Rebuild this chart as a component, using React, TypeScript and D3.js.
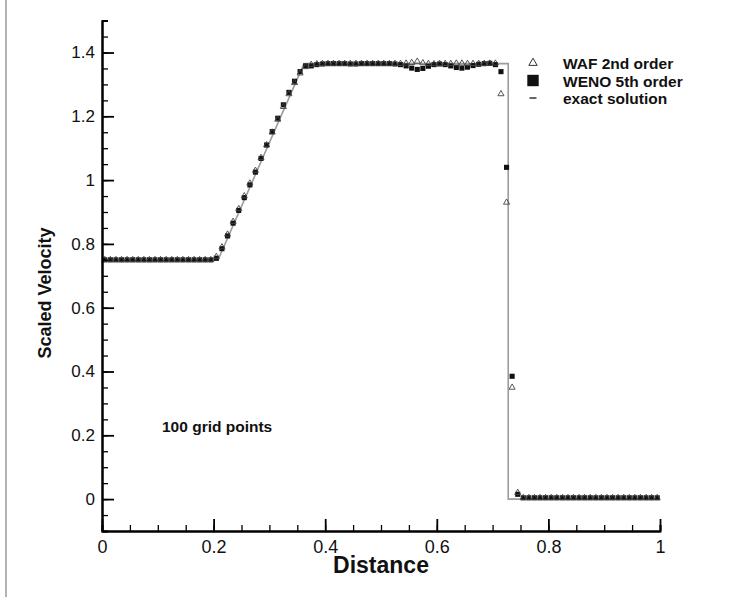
import { useEffect, useRef } from 'react';
import * as d3 from 'd3';

// cell centres of the 100-point grid
const gridX = [
  0.005, 0.015, 0.025, 0.035, 0.045, 0.055, 0.065, 0.075, 0.085, 0.095,
  0.105, 0.115, 0.125, 0.135, 0.145, 0.155, 0.165, 0.175, 0.185, 0.195,
  0.205, 0.215, 0.225, 0.235, 0.245, 0.255, 0.265, 0.275, 0.285, 0.295,
  0.305, 0.315, 0.325, 0.335, 0.345, 0.355, 0.365, 0.375, 0.385, 0.395,
  0.405, 0.415, 0.425, 0.435, 0.445, 0.455, 0.465, 0.475, 0.485, 0.495,
  0.505, 0.515, 0.525, 0.535, 0.545, 0.555, 0.565, 0.575, 0.585, 0.595,
  0.605, 0.615, 0.625, 0.635, 0.645, 0.655, 0.665, 0.675, 0.685, 0.695,
  0.705, 0.715, 0.725, 0.735, 0.745, 0.755, 0.765, 0.775, 0.785, 0.795,
  0.805, 0.815, 0.825, 0.835, 0.845, 0.855, 0.865, 0.875, 0.885, 0.895,
  0.905, 0.915, 0.925, 0.935, 0.945, 0.955, 0.965, 0.975, 0.985, 0.995,
];

const wafValues = [
  0.75, 0.75, 0.75, 0.75, 0.75, 0.75, 0.75, 0.75, 0.75, 0.75,
  0.75, 0.75, 0.75, 0.75, 0.75, 0.75, 0.75, 0.75, 0.75, 0.75,
  0.76, 0.79, 0.83, 0.87, 0.91, 0.95, 0.99, 1.03, 1.07, 1.11,
  1.15, 1.19, 1.23, 1.27, 1.305, 1.335, 1.355, 1.362, 1.364, 1.365,
  1.365, 1.365, 1.365, 1.365, 1.365, 1.365, 1.365, 1.365, 1.365, 1.365,
  1.365, 1.365, 1.365, 1.365, 1.366, 1.368, 1.372, 1.367, 1.365, 1.364,
  1.365, 1.365, 1.365, 1.366, 1.366, 1.365, 1.365, 1.365, 1.365, 1.366,
  1.366, 1.27, 0.93, 0.35, 0.02, 0.004, 0.004, 0.004, 0.004, 0.004,
  0.004, 0.004, 0.004, 0.004, 0.004, 0.004, 0.004, 0.004, 0.004, 0.004,
  0.004, 0.004, 0.004, 0.004, 0.004, 0.004, 0.004, 0.004, 0.004, 0.004,
];

const wenoValues = [
  0.75, 0.75, 0.75, 0.75, 0.75, 0.75, 0.75, 0.75, 0.75, 0.75,
  0.75, 0.75, 0.75, 0.75, 0.75, 0.75, 0.75, 0.75, 0.75, 0.75,
  0.755, 0.785, 0.825, 0.865, 0.905, 0.945, 0.985, 1.025, 1.068, 1.11,
  1.152, 1.194, 1.236, 1.275, 1.31, 1.34, 1.358, 1.358, 1.362, 1.364,
  1.365, 1.365, 1.365, 1.365, 1.364, 1.364, 1.365, 1.365, 1.365, 1.365,
  1.365, 1.365, 1.364, 1.362, 1.358, 1.351, 1.347, 1.35, 1.357, 1.362,
  1.364, 1.362, 1.358, 1.353, 1.351, 1.354, 1.359, 1.363, 1.365, 1.366,
  1.362, 1.34, 1.04, 0.385, 0.015, 0.004, 0.004, 0.004, 0.004, 0.004,
  0.004, 0.004, 0.004, 0.004, 0.004, 0.004, 0.004, 0.004, 0.004, 0.004,
  0.004, 0.004, 0.004, 0.004, 0.004, 0.004, 0.004, 0.004, 0.004, 0.004,
];

const exactX = [0, 0.208, 0.362, 0.728, 0.728, 1];
const exactY = [0.75, 0.75, 1.365, 1.365, 0, 0];

const xTicks = [0, 0.2, 0.4, 0.6, 0.8, 1];
const yTicks = [0, 0.2, 0.4, 0.6, 0.8, 1, 1.2, 1.4];
const legendLabels = ['WAF 2nd order', 'WENO 5th order', 'exact solution'];

const FONT = '"Liberation Sans", Arial, Helvetica, sans-serif';

export default function App() {
  const svgRef = useRef<SVGSVGElement | null>(null);

  useEffect(() => {
    if (!svgRef.current) return;
    const svg = d3.select(svgRef.current);
    svg.selectAll('*').remove();

    const width = 740;
    const height = 601;
    svg.attr('width', width).attr('height', height);

    svg.append('rect').attr('width', width).attr('height', height).attr('fill', '#fff');

    // page edge line at the left
    svg
      .append('line')
      .attr('x1', 6)
      .attr('x2', 6)
      .attr('y1', 0)
      .attr('y2', 597)
      .attr('stroke', '#9a9a9a')
      .attr('stroke-width', 1.5);

    const x = d3.scaleLinear().domain([0, 1]).range([102, 660]);
    const y = d3.scaleLinear().domain([-0.1, 1.5]).range([531, 20.6]);
    const y0 = y(-0.1);
    const x0 = x(0);

    // exact solution
    const line = d3
      .line<number>()
      .x((_, i) => x(exactX[i]))
      .y((d) => y(d));
    svg
      .append('path')
      .datum(exactY)
      .attr('fill', 'none')
      .attr('stroke', '#9c9c9c')
      .attr('stroke-width', 1.6)
      .attr('d', line);

    // WENO squares
    const sq = d3.symbol().type(d3.symbolSquare).size(26);
    svg
      .append('g')
      .selectAll('path')
      .data(wenoValues)
      .join('path')
      .attr('transform', (d, i) => `translate(${x(gridX[i])},${y(d)})`)
      .attr('d', sq)
      .attr('fill', '#111');

    // WAF triangles
    const tri = d3.symbol().type(d3.symbolTriangle).size(16);
    svg
      .append('g')
      .selectAll('path')
      .data(wafValues)
      .join('path')
      .attr('transform', (d, i) => `translate(${x(gridX[i])},${y(d)})`)
      .attr('d', tri)
      .attr('fill', 'none')
      .attr('stroke', '#444')
      .attr('stroke-width', 0.9);

    // axes
    const styleAxis = (g: any) => {
      g.select('.domain').attr('stroke', '#000').attr('stroke-width', 2);
      g.selectAll('.tick line').attr('stroke', '#000').attr('stroke-width', 1.8);
      g.selectAll('text').attr('fill', '#111').attr('font-family', FONT);
    };

    const minorX = d3.range(0, 1.0001, 0.05);
    const minorY = d3.range(-0.1, 1.5001, 0.05);

    svg
      .append('g')
      .attr('transform', `translate(0,${y0})`)
      .call(d3.axisBottom(x).tickValues(minorX).tickSize(-6).tickFormat(() => ''))
      .call(styleAxis)
      .call((g: any) => g.selectAll('.tick line').attr('stroke-width', 1.3));
    svg
      .append('g')
      .attr('transform', `translate(${x0},0)`)
      .call(d3.axisLeft(y).tickValues(minorY).tickSize(-6).tickFormat(() => ''))
      .call(styleAxis)
      .call((g: any) => g.selectAll('.tick line').attr('stroke-width', 1.3));

    const xAxis = svg
      .append('g')
      .attr('transform', `translate(0,${y0})`)
      .call(
        d3
          .axisBottom(x)
          .tickValues(xTicks)
          .tickSizeInner(-12)
          .tickSizeOuter(0)
          .tickPadding(9)
          .tickFormat((d: any) => d3.format('')(+d))
      )
      .call(styleAxis);
    xAxis.selectAll('text').attr('font-size', '18px');

    const yAxis = svg
      .append('g')
      .attr('transform', `translate(${x0},0)`)
      .call(
        d3
          .axisLeft(y)
          .tickValues(yTicks)
          .tickSizeInner(-12)
          .tickSizeOuter(0)
          .tickPadding(7)
          .tickFormat((d: any) => d3.format('')(+(+d).toFixed(1)))
      )
      .call(styleAxis);
    yAxis.selectAll('text').attr('font-size', '17px');

    // axis titles
    svg
      .append('text')
      .attr('x', 381)
      .attr('y', 573)
      .attr('text-anchor', 'middle')
      .attr('font-family', FONT)
      .attr('font-weight', 'bold')
      .attr('font-size', '23px')
      .attr('fill', '#111')
      .text('Distance');

    svg
      .append('text')
      .attr('transform', `translate(51,293) rotate(-90)`)
      .attr('text-anchor', 'middle')
      .attr('font-family', FONT)
      .attr('font-weight', 'bold')
      .attr('font-size', '18px')
      .attr('fill', '#111')
      .text('Scaled Velocity');

    svg
      .append('text')
      .attr('x', 162)
      .attr('y', 432)
      .attr('font-family', FONT)
      .attr('font-weight', 'bold')
      .attr('font-size', '15.5px')
      .attr('fill', '#111')
      .text('100 grid points');

    // legend
    const lg = svg.append('g').attr('transform', 'translate(533,63)');
    const rowH = 17.5;
    lg.append('path')
      .attr('d', d3.symbol().type(d3.symbolTriangle).size(30)())
      .attr('fill', 'none')
      .attr('stroke', '#333')
      .attr('stroke-width', 1);
    lg.append('path')
      .attr('transform', `translate(0,${rowH})`)
      .attr('d', d3.symbol().type(d3.symbolSquare).size(130)())
      .attr('fill', '#111');
    lg.append('line')
      .attr('x1', -3.5)
      .attr('x2', 3.5)
      .attr('y1', rowH * 2)
      .attr('y2', rowH * 2)
      .attr('stroke', '#555')
      .attr('stroke-width', 1.8);
    lg.selectAll('text.lab')
      .data(legendLabels)
      .join('text')
      .attr('class', 'lab')
      .attr('x', 30)
      .attr('y', (_, i) => i * rowH + 6)
      .attr('font-family', FONT)
      .attr('font-weight', 'bold')
      .attr('font-size', '15.5px')
      .attr('fill', '#111')
      .text((d) => d);
  }, []);

  return (
    <div style={{ position: 'absolute', left: 0, top: 0 }}>
      <svg ref={svgRef} style={{ display: 'block' }}></svg>
    </div>
  );
}
